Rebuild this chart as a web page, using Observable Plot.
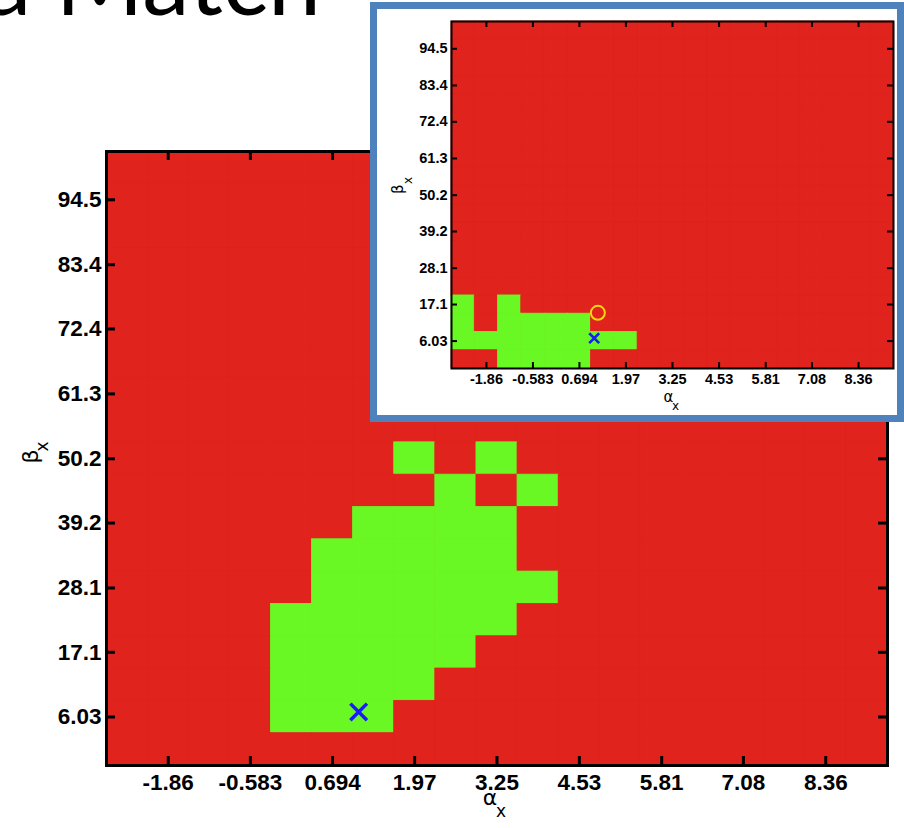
<!DOCTYPE html>
<html><head><meta charset="utf-8">
<script src="https://cdn.jsdelivr.net/npm/d3@7"></script>
<script src="https://cdn.jsdelivr.net/npm/@observablehq/plot@0.6"></script>
<style>
html,body{margin:0;padding:0;background:#fff;}
#page{position:relative;width:904px;height:828px;overflow:hidden;background:#fff;}
#main{position:absolute;left:0;top:0;}
#title{position:absolute;left:0;top:0;}
#inset{position:absolute;left:370px;top:2px;width:520px;height:406px;border:7px solid #4f81bd;background:#fff;}
#inset svg, #main svg{display:block;}
</style></head><body>
<div id="page">
  <div id="main"></div>
  <svg id="title" width="904" height="40"><text x="-16" y="15" font-family="Lato, 'Open Sans', sans-serif" font-size="95" fill="#000">a Match</text></svg>
  <div id="inset"></div>
</div>
<script>
// grid centres (alpha_x columns, beta_x rows)
const alpha = [-2.5, -1.861, -1.222, -0.583, 0.056, 0.694, 1.333, 1.972, 2.611, 3.25, 3.889, 4.528, 5.167, 5.806, 6.444, 7.083, 7.722, 8.361, 9.0];
const beta = [0.5, 6.03, 11.56, 17.08, 22.61, 28.14, 33.67, 39.19, 44.72, 50.25, 55.78, 61.31, 66.83, 72.36, 77.89, 83.42, 88.94, 94.47, 100.0];
// tick labels
const alphaTickLabels = ["-1.86", "-0.583", "0.694", "1.97", "3.25", "4.53", "5.81", "7.08", "8.36"];
const betaTickLabels = ["6.03", "17.1", "28.1", "39.2", "50.2", "61.3", "72.4", "83.4", "94.5"];
// pass (1 = green) / fail (0 = red) maps, rows from top (beta = 100) to bottom (beta = 0.5)
const mainPass = [
  "0000000000000000000",
  "0000000000000000000",
  "0000000000000000000",
  "0000000000000000000",
  "0000000000000000000",
  "0000000000000000000",
  "0000000000000000000",
  "0000000000000000000",
  "0000000000000000000",
  "0000000101000000000",
  "0000000010100000000",
  "0000001111000000000",
  "0000011111000000000",
  "0000011111100000000",
  "0000111111000000000",
  "0000111110000000000",
  "0000111100000000000",
  "0000111000000000000",
  "0000000000000000000"
];
const insetPass = [
  "0000000000000000000",
  "0000000000000000000",
  "0000000000000000000",
  "0000000000000000000",
  "0000000000000000000",
  "0000000000000000000",
  "0000000000000000000",
  "0000000000000000000",
  "0000000000000000000",
  "0000000000000000000",
  "0000000000000000000",
  "0000000000000000000",
  "0000000000000000000",
  "0000000000000000000",
  "0000000000000000000",
  "1010000000000000000",
  "1011110000000000000",
  "1111111100000000000",
  "0011110000000000000"
];
// markers
const bestFit = [{alpha: 1.1, beta: 6.9}];
const truth = [{alpha: 1.2, beta: 14.6}];

const RED = "#e0231d", GREEN = "#6af824", BLUE = "#1a1aff", YELLOW = "#f3d80c";

function cellsFrom(rows) {
  const out = [];
  const n = rows.length;
  rows.forEach((row, k) => {
    const j = n - 1 - k;
    for (let i = 0; i < row.length; i++) out.push({a: alpha[i], b: beta[j], status: row[i] === "1" ? "pass" : "fail"});
  });
  return out;
}

const da = (alpha[alpha.length - 1] - alpha[0]) / (alpha.length - 1);
const db = (beta[beta.length - 1] - beta[0]) / (beta.length - 1);
const xDomain = [alpha[0] - da / 2, alpha[alpha.length - 1] + da / 2];
const yDomain = [beta[0] - db / 2, beta[beta.length - 1] + db / 2];
const xTicks = alphaTickLabels.map(Number);
const yTicks = betaTickLabels.map(Number);
const xFmt = d => alphaTickLabels[xTicks.indexOf(d)];
const yFmt = d => betaTickLabels[yTicks.indexOf(d)];

function chart(o) {
  const pw = o.width - o.ml - o.mr, ph = o.height - o.mt - o.mb;
  const marks = [
    Plot.frame({fill: RED}),
    Plot.rect(cellsFrom(o.rows), {x1: d => d.a - da / 2, x2: d => d.a + da / 2, y1: d => d.b - db / 2, y2: d => d.b + db / 2, fill: "status", stroke: "status", strokeWidth: 0.8}),
    Plot.ruleX(xTicks, {x: d => d, insetTop: ph - o.tl, stroke: "black", strokeWidth: o.tw}),
    Plot.ruleX(xTicks, {x: d => d, insetBottom: ph - o.tl, stroke: "black", strokeWidth: o.tw}),
    Plot.ruleY(yTicks, {y: d => d, insetRight: pw - o.tl, stroke: "black", strokeWidth: o.tw}),
    Plot.ruleY(yTicks, {y: d => d, insetLeft: pw - o.tl, stroke: "black", strokeWidth: o.tw}),
    Plot.axisX(xTicks, {anchor: "bottom", tickSize: 0, tickPadding: o.xpad, tickFormat: xFmt, fontSize: o.fs, fontWeight: "bold", label: null}),
    Plot.axisY(yTicks, {anchor: "left", tickSize: 0, tickPadding: o.ypad, tickFormat: yFmt, fontSize: o.fs, fontWeight: "bold", label: null}),
    Plot.dot(bestFit, {x: "alpha", y: "beta", symbol: "times", r: o.xr, stroke: BLUE, strokeWidth: o.xw}),
    Plot.text([0], {frameAnchor: "bottom", text: () => "α", fontSize: o.lfs, dx: o.ax[0], dy: o.ax[1], fontFamily: "DejaVu Sans, sans-serif"}),
    Plot.text([0], {frameAnchor: "bottom", text: () => "x", fontSize: o.sfs, dx: o.axs[0], dy: o.axs[1], fontFamily: "DejaVu Sans, sans-serif"}),
    Plot.text([0], {frameAnchor: "left", text: () => "β", rotate: -90, fontSize: o.lfs, dx: o.bx[0], dy: o.bx[1], fontFamily: "DejaVu Sans, sans-serif"}),
    Plot.text([0], {frameAnchor: "left", text: () => "x", rotate: -90, fontSize: o.sfs, dx: o.bxs[0], dy: o.bxs[1], fontFamily: "DejaVu Sans, sans-serif"}),
    Plot.frame({stroke: "black", strokeWidth: o.fw})
  ];
  if (o.circle) marks.splice(9, 0, Plot.dot(truth, {x: "alpha", y: "beta", r: o.cr, stroke: YELLOW, strokeWidth: o.cw, fill: "none"}));
  return Plot.plot({
    width: o.width, height: o.height,
    marginLeft: o.ml, marginRight: o.mr, marginTop: o.mt, marginBottom: o.mb,
    x: {type: "linear", domain: xDomain},
    y: {type: "linear", domain: yDomain},
    color: {domain: ["fail", "pass"], range: [RED, GREEN]},
    style: {fontFamily: "'Liberation Sans', Arial, sans-serif", background: "transparent", overflow: "visible"},
    marks
  });
}

document.getElementById("main").append(chart({
  rows: mainPass, width: 904, height: 828, ml: 106, mr: 17, mt: 151, mb: 63,
  tl: 9, tw: 3, fw: 3, fs: 22.5, xpad: 9, ypad: 5,
  xr: 7.6, xw: 3.5, lfs: 22, sfs: 17,
  ax: [-7, 39], axs: [4, 51], bx: [-76, 5], bxs: [-64, -7],
  circle: false
}));

document.getElementById("inset").append(chart({
  rows: insetPass, width: 520, height: 406, ml: 74, mr: 4, mt: 12, mb: 47,
  tl: 6, tw: 2, fw: 2, fs: 14.5, xpad: 5, ypad: 4,
  xr: 4.6, xw: 2.5, lfs: 15, sfs: 12,
  ax: [-4, 33], axs: [3, 41], bx: [-53, -1], bxs: [-43, -11],
  circle: true, cr: 7, cw: 2
}));
</script>
</body></html>
